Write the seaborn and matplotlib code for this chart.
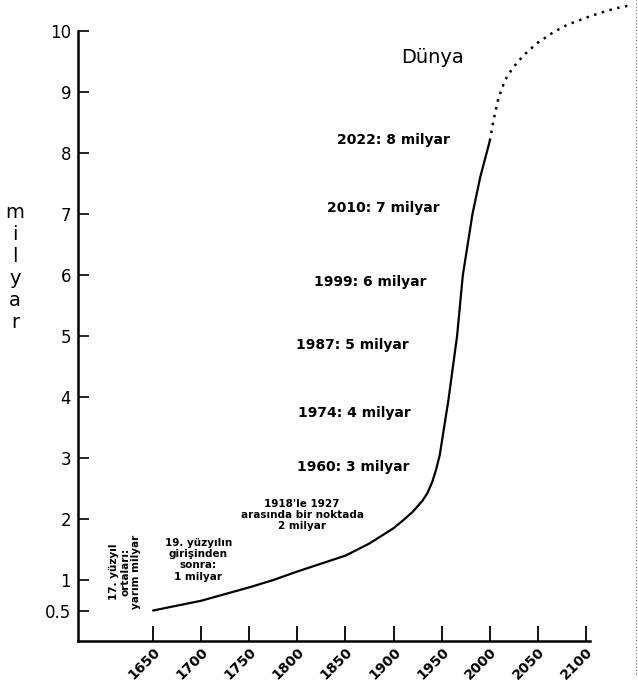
import matplotlib
matplotlib.use("Agg")
import matplotlib.pyplot as plt
import pandas as pd
import seaborn as sns
from matplotlib.lines import Line2D

# World population curve as drawn (billions)
years_past = [1650, 1675, 1700, 1725, 1750, 1775, 1800, 1825, 1850, 1875,
              1900, 1910, 1920, 1930, 1935, 1940, 1944, 1948, 1951, 1954,
              1957, 1960, 1963, 1966, 1969, 1972, 1977, 1982, 1990, 1995, 2000]
pop_past = [0.5, 0.58, 0.66, 0.77, 0.88, 1.0, 1.14, 1.27, 1.4, 1.6,
            1.85, 1.98, 2.12, 2.3, 2.42, 2.6, 2.8, 3.05, 3.35, 3.65,
            3.95, 4.3, 4.65, 5.0, 5.5, 6.0, 6.5, 7.0, 7.6, 7.9, 8.2]

# Projection (dotted part)
years_proj = [2000, 2004, 2009, 2016, 2024, 2035, 2049, 2065, 2080, 2100,
              2115, 2130, 2145]
pop_proj = [8.2, 8.55, 8.9, 9.2, 9.4, 9.6, 9.8, 9.97, 10.1, 10.22,
            10.3, 10.37, 10.42]

x_ticks = [1650, 1700, 1750, 1800, 1850, 1900, 1950, 2000, 2050, 2100]
y_ticks = [0.5, 1, 2, 3, 4, 5, 6, 7, 8, 9, 10]
y_tick_labels = ["0.5", "1", "2", "3", "4", "5", "6", "7", "8", "9", "10"]

milestones = ["1960: 3 milyar", "1974: 4 milyar", "1987: 5 milyar",
              "1999: 6 milyar", "2010: 7 milyar", "2022: 8 milyar"]
milestone_x = [1858, 1859, 1857, 1876, 1889, 1900]
milestone_y = [2.85, 3.74, 4.85, 5.89, 7.1, 8.21]

df_past = pd.DataFrame({"yil": years_past, "nufus": pop_past})
df_proj = pd.DataFrame({"yil": years_proj, "nufus": pop_proj})

sns.set_style("ticks")
plt.rcParams["font.family"] = ["DejaVu Sans"]
plt.rcParams["text.color"] = "black"
plt.rcParams["xtick.color"] = "black"
plt.rcParams["ytick.color"] = "black"
plt.rcParams["axes.edgecolor"] = "black"

fig = plt.figure(figsize=(6.38, 6.88), dpi=100)
ax = fig.add_axes([0.1223, 0.0683, 0.8746, 0.9317])

sns.lineplot(data=df_past, x="yil", y="nufus", ax=ax, color="black",
             linewidth=1.6, sort=False)
sns.lineplot(data=df_proj, x="yil", y="nufus", ax=ax, color="black",
             linewidth=1.8, linestyle=(0, (1, 2.2)), sort=False)

ax.set_xlim(1572, 2152)
ax.set_ylim(0, 10.51)
ax.set_xlabel("")
ax.set_ylabel("")

ax.set_xticks(x_ticks)
ax.set_xticklabels([str(t) for t in x_ticks], rotation=45, ha="right",
                   rotation_mode="anchor", fontsize=10, fontweight="bold")
ax.set_yticks(y_ticks)
ax.set_yticklabels(y_tick_labels, fontsize=12)
ax.tick_params(axis="x", direction="in", length=11, width=1.3, pad=3)
ax.tick_params(axis="y", direction="in", length=8, width=1.2, pad=5)

for side in ["top", "right"]:
    ax.spines[side].set_visible(False)
ax.spines["left"].set_bounds(0, 10)
ax.spines["bottom"].set_bounds(1572, 2104)
ax.spines["left"].set_linewidth(1.8)
ax.spines["bottom"].set_linewidth(1.8)

# milestone labels
for txt, xx, yy in zip(milestones, milestone_x, milestone_y):
    ax.text(xx, yy, txt, ha="center", va="center", fontsize=10,
            fontweight="bold")

ax.text(1940, 9.56, "Dünya", ha="center", va="center", fontsize=14)

ax.text(1805, 2.07, "1918'le 1927\narasında bir noktada\n2 milyar",
        ha="center", va="center", fontsize=7.5, fontweight="bold",
        linespacing=1.1)
ax.text(1697, 1.33, "19. yüzyılın\ngirişinden\nsonra:\n1 milyar",
        ha="center", va="center", fontsize=7.5, fontweight="bold",
        linespacing=1.15)
ax.text(1621, 1.13, "17. yüzyıl\nortaları:\nyarım milyar",
        ha="center", va="center", fontsize=7.5, fontweight="bold",
        rotation=90, linespacing=1.1)

# stacked axis title
fig.text(15 / 638, 1 - 268 / 688, "m\ni\nl\ny\na\nr", ha="center",
         va="center", fontsize=14, linespacing=1.2)

# faint dotted border on the right edge of the scan
fig.add_artist(Line2D([636 / 638, 636 / 638], [0.02, 1.0], color="0.4",
                      linewidth=0.8, linestyle=(0, (1, 2))))

fig.savefig("out.png", dpi=100)
